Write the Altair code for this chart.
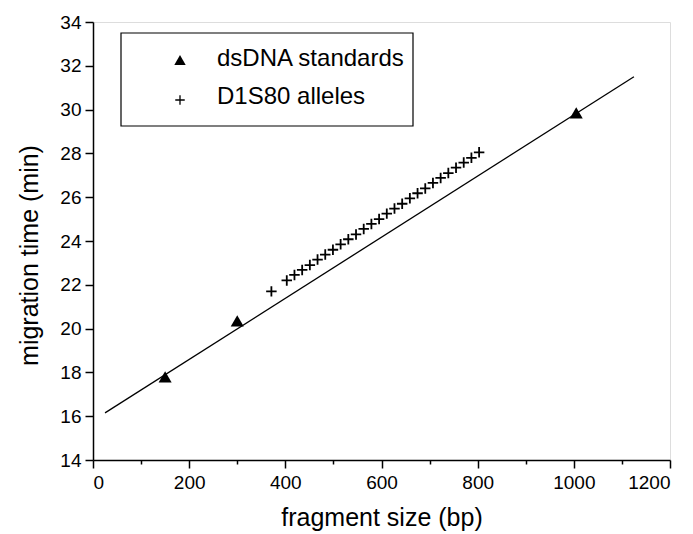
import altair as alt
import pandas as pd

# dsDNA standards (bp, min)
std_bp = [150, 300, 1005]
std_min = [17.8, 20.35, 29.85]

# D1S80 alleles (bp, min)
allele_bp = [371, 403, 419, 435, 451, 467, 483, 499, 515, 531, 547, 563, 579, 595,
             611, 627, 643, 659, 675, 691, 707, 723, 739, 755, 771, 787, 803]
allele_min = [21.7, 22.2, 22.45, 22.68, 22.9, 23.15, 23.38, 23.6, 23.85, 24.08, 24.3,
              24.55, 24.78, 25.0, 25.25, 25.48, 25.7, 25.95, 26.18, 26.4, 26.65,
              26.88, 27.1, 27.35, 27.58, 27.8, 28.05]

# calibration line end points
fit_bp = [25, 1125]
fit_min = [16.15, 31.5]

legend_labels = ["dsDNA standards", "D1S80 alleles"]

FONT = "Liberation Sans"
W, H = 577, 438

std = pd.DataFrame({"bp": std_bp, "t": std_min})
al = pd.DataFrame({"bp": allele_bp, "t": allele_min})
fit = pd.DataFrame({"bp": fit_bp, "t": fit_min})

xscale = alt.Scale(domain=[0, 1200], nice=False, zero=False)
yscale = alt.Scale(domain=[14, 34], nice=False, zero=False)

xaxis = alt.Axis(
    title="fragment size (bp)",
    values=list(range(0, 1201, 100)),
    labelExpr="datum.value % 200 === 0 ? datum.label : ''",
    tickSize={"condition": {"test": "datum.value % 200 === 0", "value": 8}, "value": 4},
    grid=False, domainColor="black", tickColor="black", domainWidth=1.5, tickWidth=1.5,
    labelFont=FONT, labelFontSize=19, labelColor="black", labelPadding=5,
    titleFont=FONT, titleFontSize=25, titleFontWeight="normal", titleColor="black",
    titlePadding=13, format="d",
)
yaxis = alt.Axis(
    title="migration time (min)",
    values=list(range(14, 35)),
    labelExpr="datum.value % 2 === 0 ? datum.label : ''",
    tickSize={"condition": {"test": "datum.value % 2 === 0", "value": 8}, "value": 4},
    grid=False, domainColor="black", tickColor="black", domainWidth=1.5, tickWidth=1.5,
    labelFont=FONT, labelFontSize=19, labelColor="black", labelPadding=4,
    titleFont=FONT, titleFontSize=25, titleFontWeight="normal", titleColor="black",
    titlePadding=17, titleY=233, format="d",
)

line = alt.Chart(fit).mark_line(color="black", strokeWidth=1.3).encode(
    x=alt.X("bp:Q", scale=xscale, axis=xaxis),
    y=alt.Y("t:Q", scale=yscale, axis=yaxis),
)

tri = alt.Chart(std).mark_point(shape="triangle-up", filled=True, color="black", size=170, opacity=1).encode(
    x=alt.X("bp:Q", scale=xscale), y=alt.Y("t:Q", scale=yscale)
)

PLUS = "M-1,0L1,0M0,-1L0,1"
plus = alt.Chart(al).mark_point(shape=PLUS, filled=False, color="black", size=110, strokeWidth=1.8, opacity=1).encode(
    x=alt.X("bp:Q", scale=xscale), y=alt.Y("t:Q", scale=yscale)
)

one = pd.DataFrame({"a": [0]})
box = alt.Chart(one).mark_rect(fill="white", stroke="black", strokeWidth=1.2).encode(
    x=alt.value(28), x2=alt.value(320), y=alt.value(11), y2=alt.value(104)
)
leg_tri = alt.Chart(one).mark_point(shape="triangle-up", filled=True, color="black", size=130, opacity=1).encode(
    x=alt.value(87), y=alt.value(38)
)
leg_plus = alt.Chart(one).mark_point(shape=PLUS, filled=False, color="black", size=90, strokeWidth=1.3, opacity=1).encode(
    x=alt.value(87), y=alt.value(78)
)
leg_text1 = alt.Chart(one).mark_text(align="left", baseline="middle", font=FONT, fontSize=24, color="black",
                                     text=legend_labels[0]).encode(x=alt.value(124), y=alt.value(37))
leg_text2 = alt.Chart(one).mark_text(align="left", baseline="middle", font=FONT, fontSize=24, color="black",
                                     text=legend_labels[1]).encode(x=alt.value(124), y=alt.value(75))

chart = alt.layer(line, tri, plus, box, leg_tri, leg_plus, leg_text1, leg_text2).properties(
    width=W, height=H,
    autosize=alt.AutoSizeParams(type="none"),
    padding={"left": 85, "top": 14, "right": 15, "bottom": 72},
).configure_view(stroke=None).configure(background="white")

chart.save("out.html", embed_options={"renderer": "svg", "actions": False})
